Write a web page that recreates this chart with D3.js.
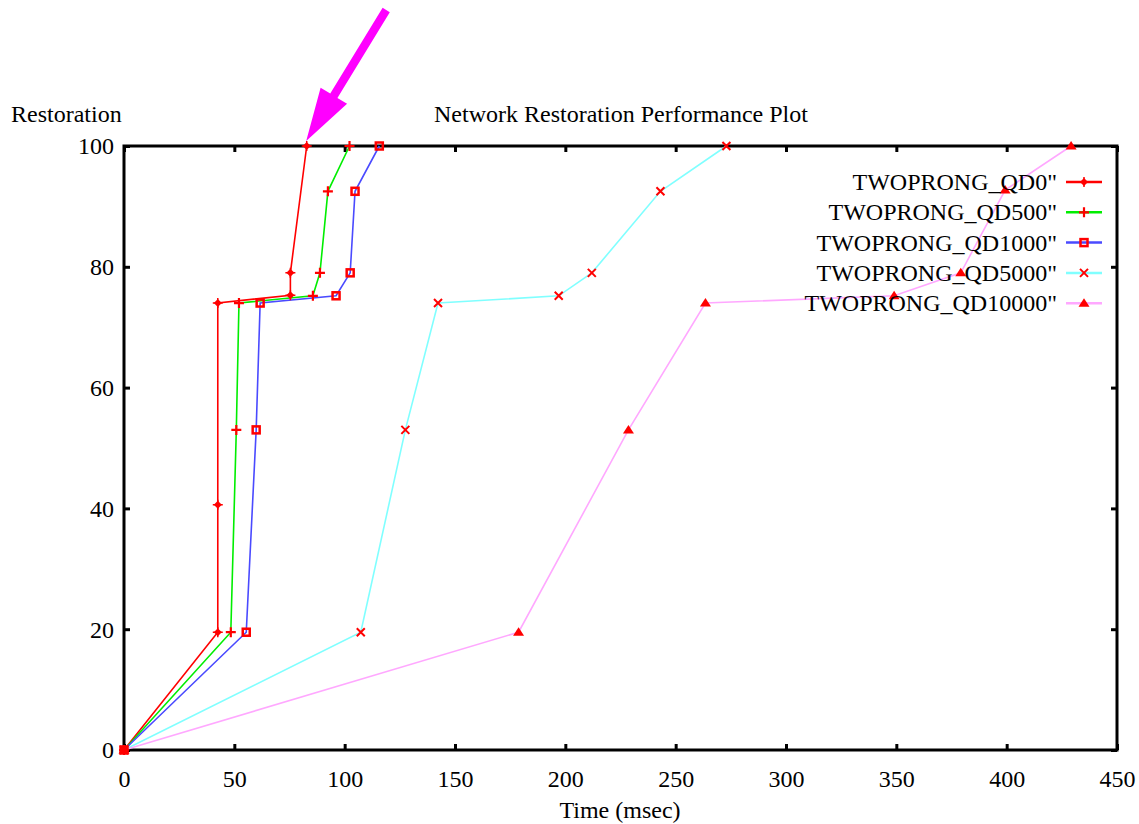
<!DOCTYPE html>
<html><head><meta charset="utf-8">
<script src="https://cdn.jsdelivr.net/npm/d3@7"></script>
<style>body{margin:0;background:#fff}svg{display:block}text{font-family:"Liberation Serif","Times New Roman",serif;fill:#000}</style>
</head><body>
<svg id="c" width="1139" height="824"></svg>
<script>
const seriesNames = ['TWOPRONG_QD0"', 'TWOPRONG_QD500"', 'TWOPRONG_QD1000"', 'TWOPRONG_QD5000"', 'TWOPRONG_QD10000"'];
const qd0X = [0, 42.5, 42.5, 42.5, 75.4, 75.4, 82.8];
const qd0Y = [0, 19.5, 40.6, 74.0, 75.3, 79.0, 100];
const qd500X = [0, 48.4, 50.9, 52.1, 85.6, 88.8, 92.4, 102.2];
const qd500Y = [0, 19.5, 53.0, 74.0, 75.2, 79.0, 92.5, 100];
const qd1000X = [0, 55.4, 59.9, 61.7, 96.1, 102.5, 104.7, 115.7];
const qd1000Y = [0, 19.5, 53.0, 74.0, 75.2, 79.0, 92.5, 100];
const qd5000X = [0, 107.3, 127.5, 142.3, 197.0, 212.0, 243.1, 273.0];
const qd5000Y = [0, 19.5, 53.0, 74.0, 75.2, 79.0, 92.5, 100];
const qd10000X = [0, 178.8, 228.6, 263.5, 349.0, 379.2, 399.3, 429.2];
const qd10000Y = [0, 19.5, 53.0, 74.0, 75.2, 79.0, 92.7, 100];
const xTicks = [0, 50, 100, 150, 200, 250, 300, 350, 400, 450];
const yTicks = [0, 20, 40, 60, 80, 100];
const lineColors = ['#ff0000', '#00ee00', '#4a4aff', '#80ffff', '#ffa8ff'];
const markerTypes = ['diamond', 'plus', 'square', 'cross', 'triangle'];

const FS = '24px';
const svg = d3.select('#c');
const x = d3.scaleLinear().domain([0, 450]).range([124, 1117]);
const y = d3.scaleLinear().domain([0, 100]).range([750, 146]);

const series = [
  {x: qd0X, y: qd0Y}, {x: qd500X, y: qd500Y}, {x: qd1000X, y: qd1000Y},
  {x: qd5000X, y: qd5000Y}, {x: qd10000X, y: qd10000Y}
].map((s, i) => ({name: seriesNames[i], color: lineColors[i], marker: markerTypes[i],
  pts: s.x.map((v, j) => [v, s.y[j]])}));

// axes ticks (inward, mirrored)
const axX = d3.axisBottom(x).tickValues(xTicks).tickSize(-6).tickFormat(d3.format('d'));
const axXt = d3.axisTop(x).tickValues(xTicks).tickSize(-6).tickFormat('');
const axY = d3.axisLeft(y).tickValues(yTicks).tickSize(-6).tickFormat(d3.format('d'));
const axYr = d3.axisRight(y).tickValues(yTicks).tickSize(-6).tickFormat('');
function styleAx(g){
  g.attr('font-family', null).attr('font-size', null);
  g.select('.domain').remove();
  g.selectAll('.tick line').attr('stroke', '#000').attr('stroke-width', 3);
  g.selectAll('.tick text').style('font-size', FS).attr('fill', '#000').attr('dy', null);
}
svg.append('g').attr('transform', 'translate(0,750)').call(axX).call(styleAx)
  .selectAll('.tick text').attr('y', 37);
svg.append('g').attr('transform', 'translate(0,146)').call(axXt).call(styleAx);
svg.append('g').attr('transform', 'translate(124,0)').call(axY).call(styleAx)
  .selectAll('.tick text').attr('dy', '0.33em').attr('x', -10);
svg.append('g').attr('transform', 'translate(1117,0)').call(axYr).call(styleAx);

// frame
svg.append('rect').attr('x', x(0)).attr('y', y(100)).attr('width', x(450) - x(0)).attr('height', y(0) - y(100))
  .attr('fill', 'none').attr('stroke', '#000').attr('stroke-width', 3);

// lines
const line = d3.line().x(d => x(d[0])).y(d => y(d[1]));
series.forEach(s => {
  svg.append('path').datum(s.pts).attr('d', line).attr('fill', 'none')
    .attr('stroke', s.color).attr('stroke-width', 1.6);
});

// markers
function drawMarker(g, type, cx, cy){
  const red = '#ff0000';
  if (type === 'diamond') {
    g.append('path').attr('d', `M${cx-4},${cy}L${cx},${cy-4}L${cx+4},${cy}L${cx},${cy+4}Z`).attr('fill', red);
    g.append('path').attr('d', `M${cx-5},${cy}H${cx+5}M${cx},${cy-5}V${cy+5}`).attr('stroke', red).attr('stroke-width', 1.5);
  } else if (type === 'plus') {
    g.append('path').attr('d', `M${cx-5},${cy}H${cx+5}M${cx},${cy-5}V${cy+5}`).attr('stroke', red).attr('stroke-width', 2.2);
  } else if (type === 'square') {
    g.append('rect').attr('x', cx-3.5).attr('y', cy-3.5).attr('width', 7).attr('height', 7)
      .attr('fill', 'none').attr('stroke', red).attr('stroke-width', 2.5);
  } else if (type === 'cross') {
    g.append('path').attr('d', `M${cx-4},${cy-4}L${cx+4},${cy+4}M${cx-4},${cy+4}L${cx+4},${cy-4}`).attr('stroke', red).attr('stroke-width', 2);
  } else if (type === 'triangle') {
    g.append('path').attr('d', `M${cx},${cy-5}L${cx+5.5},${cy+3.5}L${cx-5.5},${cy+3.5}Z`).attr('fill', red);
  }
}
series.forEach(s => {
  const g = svg.append('g');
  s.pts.forEach(p => drawMarker(g, s.marker, x(p[0]), y(p[1])));
});

// legend
const legX = 1057, legY0 = 182, legDy = 30.3;
series.forEach((s, i) => {
  const ly = legY0 + i * legDy;
  svg.append('text').attr('x', legX).attr('y', ly).attr('dy', '0.33em').attr('text-anchor', 'end')
    .style('font-size', FS).text(s.name);
  svg.append('line').attr('x1', 1066).attr('x2', 1102).attr('y1', ly).attr('y2', ly)
    .attr('stroke', s.color).attr('stroke-width', 2.5);
  drawMarker(svg.append('g'), s.marker, 1084, ly);
});

// labels
svg.append('text').attr('x', 11).attr('y', 122).style('font-size', FS).text('Restoration');
svg.append('text').attr('x', 621).attr('y', 122).attr('text-anchor', 'middle').style('font-size', FS).text('Network Restoration Performance Plot');
svg.append('text').attr('x', 620).attr('y', 818).attr('text-anchor', 'middle').style('font-size', FS).text('Time (msec)');

// arrow annotation pointing at QD0 reaching 100%
const tipX = x(qd0X[qd0X.length - 1]) - 0.5, tipY = y(100) - 5;
const tail = [tipX + 80, tipY - 131];
const len = Math.hypot(tail[0] - tipX, tail[1] - tipY);
const ux = (tipX - tail[0]) / len, uy = (tipY - tail[1]) / len;
const nx = -uy, ny = ux;
const headLen = 53, headHW = 15.5, shaftHW = 4.2;
const bx = tipX - ux * headLen, by = tipY - uy * headLen;
const arrowPts = [
  [tail[0] + nx * shaftHW, tail[1] + ny * shaftHW],
  [bx + nx * shaftHW, by + ny * shaftHW],
  [bx + nx * headHW, by + ny * headHW],
  [tipX, tipY],
  [bx - nx * headHW, by - ny * headHW],
  [bx - nx * shaftHW, by - ny * shaftHW],
  [tail[0] - nx * shaftHW, tail[1] - ny * shaftHW]
];
svg.append('path').attr('d', 'M' + arrowPts.map(p => p.join(',')).join('L') + 'Z').attr('fill', '#ff00ff');
</script>
</body></html>
